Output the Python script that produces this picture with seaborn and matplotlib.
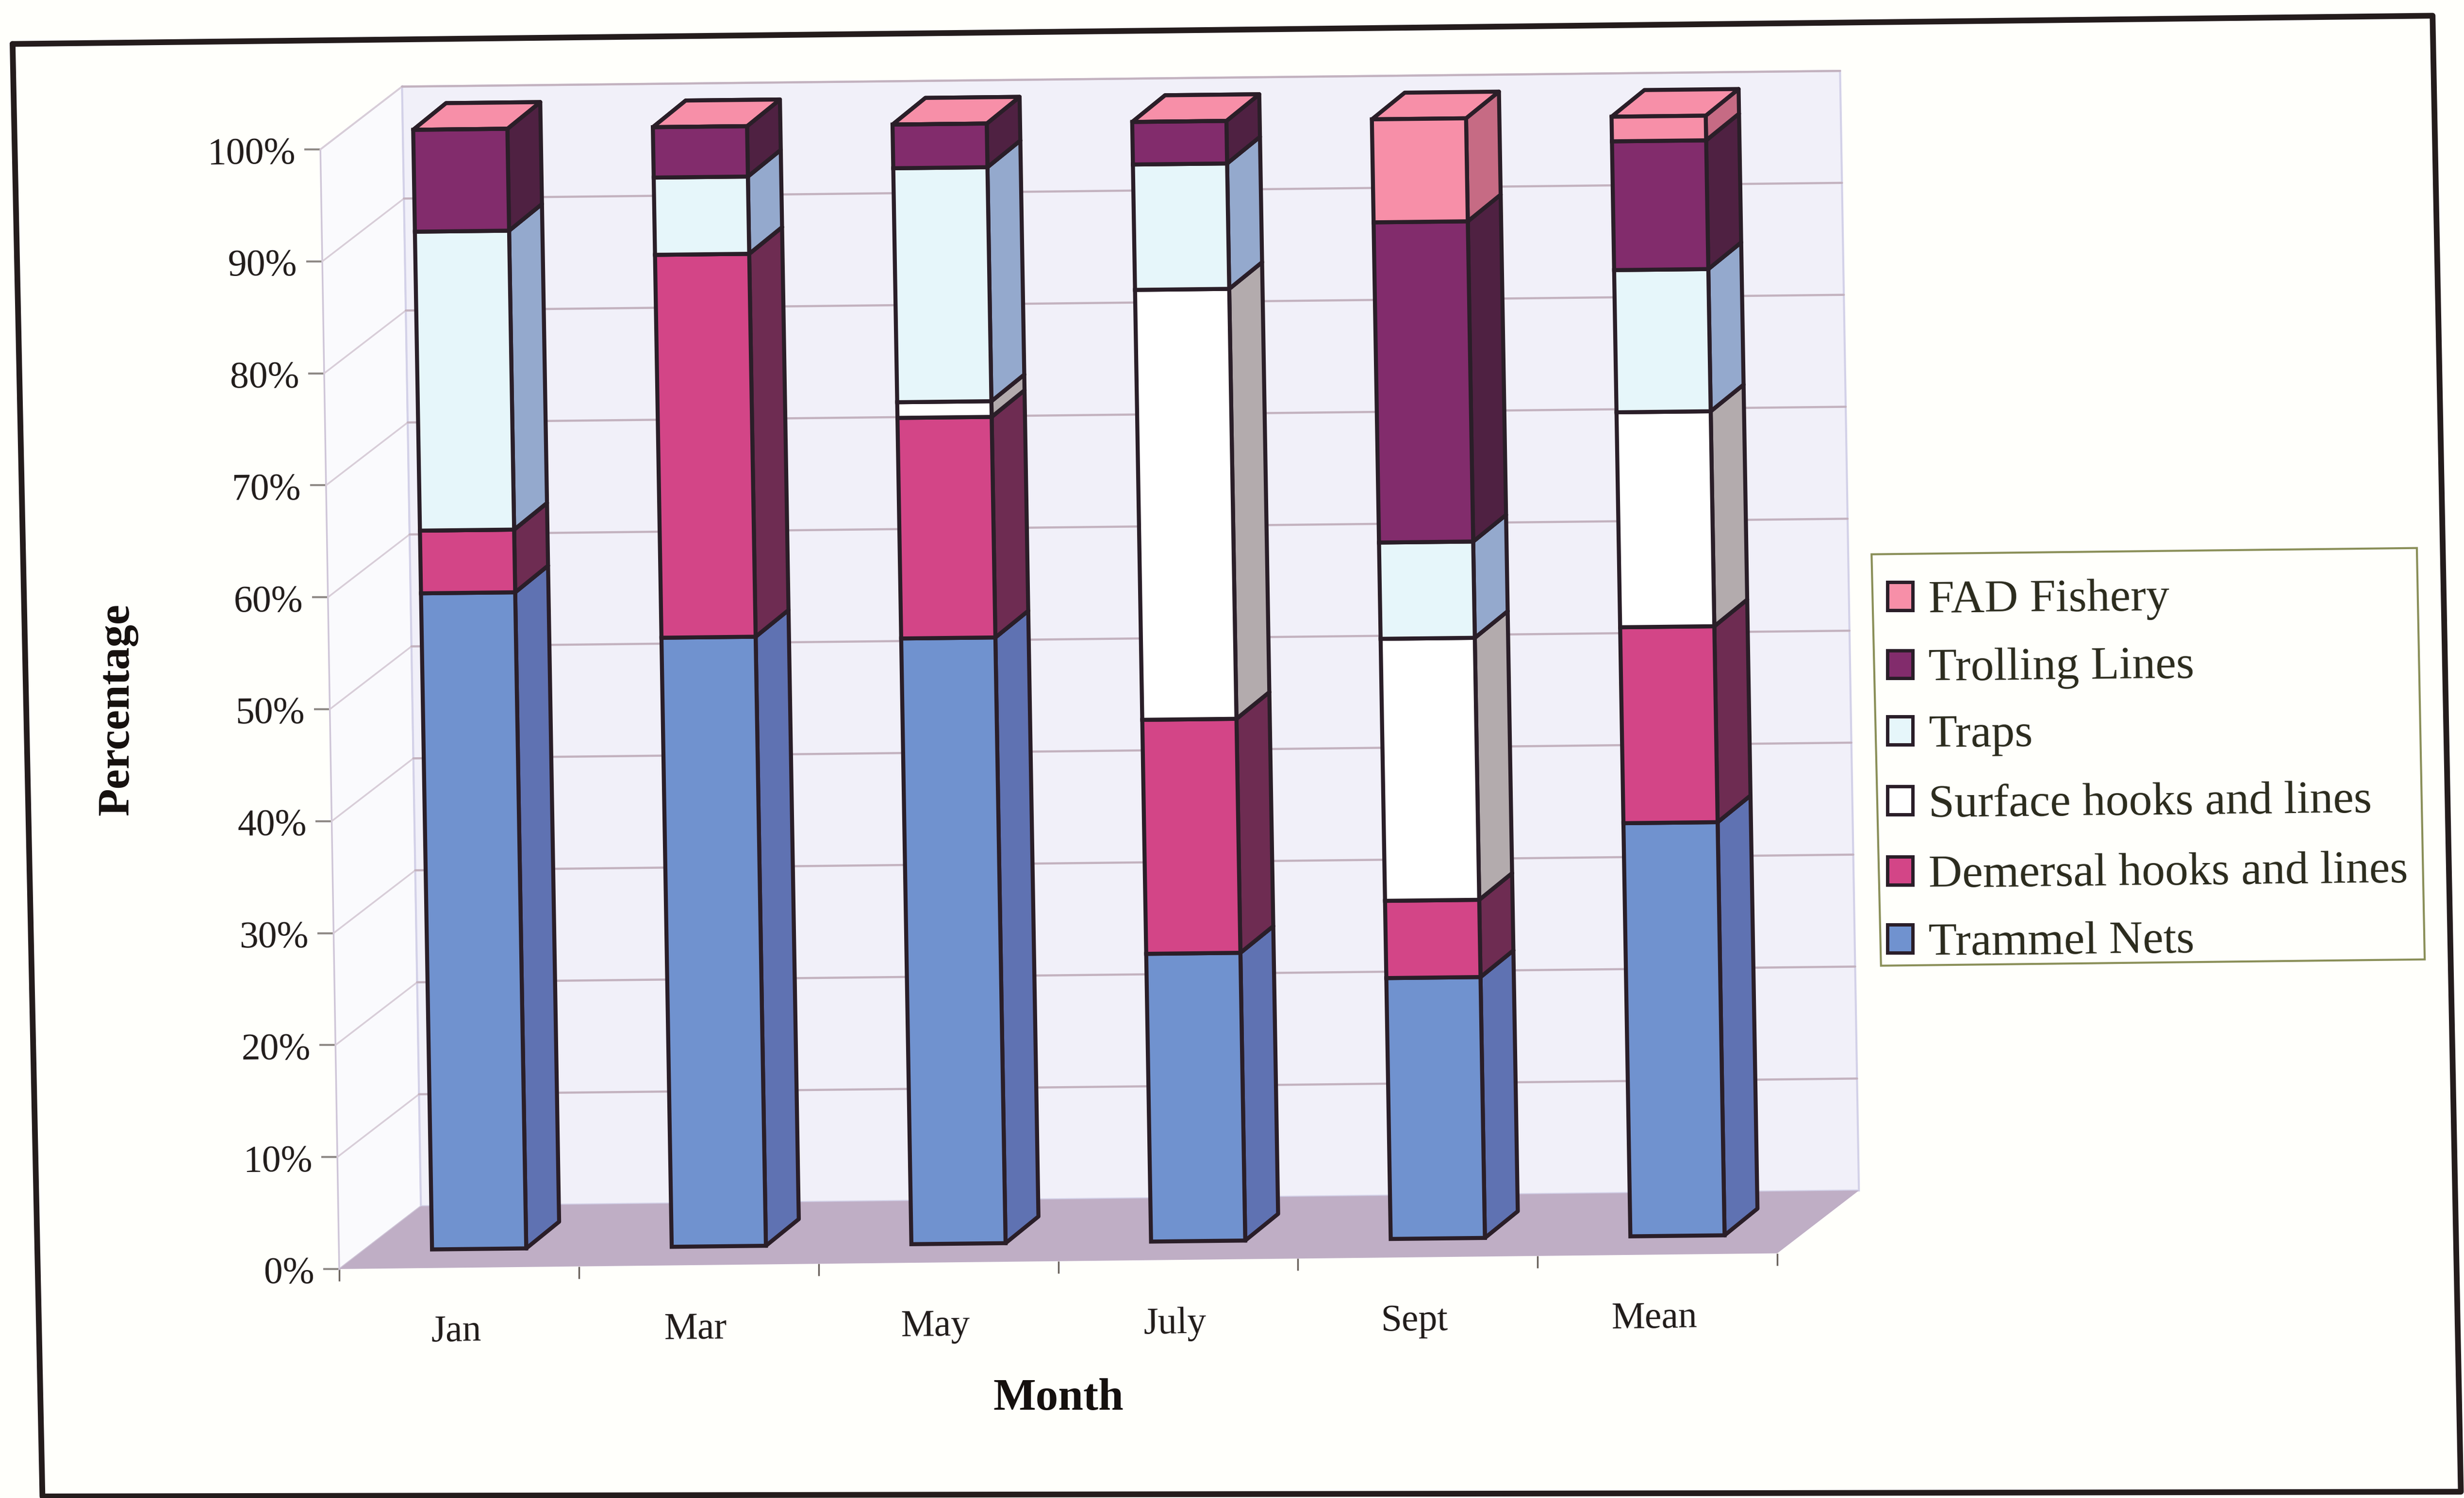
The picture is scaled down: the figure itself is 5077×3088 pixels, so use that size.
import matplotlib
matplotlib.use('Agg')
import numpy as np
import matplotlib.pyplot as plt
import seaborn as sns
from matplotlib.lines import Line2D
from matplotlib.patches import Patch, Polygon
from matplotlib.transforms import Affine2D

sns.set_style("white")
plt.rcParams['font.family'] = ['Liberation Serif', 'DejaVu Serif']

months = ['Jan', 'Mar', 'May', 'July', 'Sept', 'Mean']
pct_ticks = [0, 10, 20, 30, 40, 50, 60, 70, 80, 90, 100]

# bottom of the stack first
trammel = [58.6, 54.4, 54.1, 25.7, 23.3, 36.9]
demersal = [5.6, 34.2, 19.7, 20.9, 6.9, 17.5]
surface = [0, 0, 1.4, 38.4, 23.4, 19.2]
traps = [26.7, 6.9, 20.9, 11.2, 8.6, 12.7]
trolling = [9.1, 4.5, 3.9, 3.8, 28.6, 11.5]
fad = [0, 0, 0, 0, 9.2, 2.2]

series = [trammel, demersal, surface, traps, trolling, fad]
names = ['Trammel Nets', 'Demersal hooks and lines', 'Surface hooks and lines',
         'Traps', 'Trolling Lines', 'FAD Fishery']
front_colors = ['#7092cf', '#d34587', '#ffffff', '#e6f6fa', '#822c6c', '#f78fa8']
side_colors = ['#5f72b2', '#6e2c52', '#b3abad', '#94a9cd', '#4f2142', '#c66b84']

edge = '#2a1e28'
grid_col = '#c3b2bf'

W, H = 5077, 3088
fig = plt.figure(figsize=(W / 100, H / 100), dpi=100, facecolor='#fffffb')

# front plane of the chart box, in full size pixels
x0, x1 = 699.0, 3662.0
y0, y1 = H - 2616.0, H - 308.0
ax = fig.add_axes([x0 / W, y0 / H, (x1 - x0) / W, (y1 - y0) / H])
ax.patch.set_visible(False)
for s in ax.spines.values():
    s.set_visible(False)

# the scan is slightly skewed, so shear everything drawn in data coords
k1, k2 = 12 / 713, 10 / 915
shear = Affine2D(np.array([[1, -k1, k1 * y0], [k2, 1, -k2 * x0], [0, 0, 1]]))
ax.transData = ax.transData + shear

# fake 3d depths, in data units
floor_dx, floor_dy = 0.345, 5.53
bar_fx, bar_fy = 0.085, 1.66
bar_dx, bar_dy = 0.139, 2.35

left, right = -0.5, 5.5

# walls and floor
ax.fill([left, left + floor_dx, left + floor_dx, left], [0, floor_dy, 100 + floor_dy, 100],
        fc='#fafafd', ec='#cfc6d8', lw=2.5, zorder=1)
ax.fill([left + floor_dx, right + floor_dx, right + floor_dx, left + floor_dx],
        [floor_dy, floor_dy, 100 + floor_dy, 100 + floor_dy],
        fc='#f1f0f9', ec='#d3d1e8', lw=3, zorder=1)
ax.fill([left, right, right + floor_dx, left + floor_dx], [0, 0, floor_dy, floor_dy],
        fc='#bfaec5', ec='none', zorder=2)
for p in pct_ticks[1:]:
    ax.plot([left, left + floor_dx], [p, p + floor_dy], color='#d8cdd8', lw=2.5, zorder=2)
    ax.plot([left + floor_dx, right + floor_dx], [p + floor_dy, p + floor_dy],
            color=grid_col, lw=3.2, zorder=2)

# front faces
bottom = np.zeros(len(months))
for vals, name, col in zip(series, names, front_colors):
    sns.barplot(x=months, y=vals, bottom=bottom, color=col, saturation=1, width=0.393,
                edgecolor=edge, linewidth=6, errorbar=None, ax=ax)
    bottom = bottom + np.array(vals)

ax.set_xlim(left, right)
ax.set_ylim(0, 100)

shift = Affine2D().translate(bar_fx, bar_fy) + ax.transData
bars = [p for p in ax.patches if hasattr(p, 'get_width')]
n = len(months)
for k, b in enumerate(bars):
    b.set_transform(shift)
    b.set_zorder(6)
    i = k // n
    x_l, x_r = b.get_x(), b.get_x() + b.get_width()
    yb, yt = b.get_y(), b.get_y() + b.get_height()
    ax.fill([x_r, x_r + bar_dx, x_r + bar_dx, x_r], [yb, yb + bar_dy, yt + bar_dy, yt],
            fc=side_colors[i], ec=edge, lw=6, joinstyle='round', transform=shift, zorder=5)
    ax.fill([x_l, x_r, x_r + bar_dx, x_l + bar_dx], [yt, yt, yt + bar_dy, yt + bar_dy],
            fc=front_colors[i], ec=edge, lw=6, joinstyle='round', transform=shift, zorder=5)

for a in list(ax.patches) + list(ax.lines):
    a.set_clip_on(False)

# axes
ax.set_yticks(pct_ticks)
ax.set_yticklabels([f'{p}%' for p in pct_ticks])
ax.set_xticks(np.arange(left, right + 1))
ax.set_xticklabels([])
ax.set_xticks(range(len(months)), labels=months, minor=True)
ax.tick_params(axis='y', which='major', left=True, length=24, width=3, color='#8f8a86',
               labelsize=56, pad=13, labelcolor='#1f1a18')
ax.tick_params(axis='x', which='major', bottom=True, length=18, width=2.5, color='#6a625c')
ax.tick_params(axis='x', which='minor', bottom=False, length=0, labelsize=56, pad=69,
               labelcolor='#1f1a18')
for tick in ax.yaxis.get_major_ticks():
    tick.label1.set_transform(tick.label1.get_transform() + shear)
    tick.tick1line.set_transform(tick.tick1line.get_transform() + shear)
    tick.label1.set_rotation(0.6)
for tick in ax.xaxis.get_major_ticks():
    tick.tick1line.set_transform(tick.tick1line.get_transform() + shear)
for tick in ax.xaxis.get_minor_ticks():
    tick.label1.set_transform(tick.label1.get_transform() + shear + Affine2D().translate(-8, 0))
    tick.label1.set_rotation(0.6)

ax.set_xlabel('Month', fontsize=67, fontweight='bold', color='#15100e', labelpad=43)
ax.set_ylabel('Percentage', fontsize=67, fontweight='bold', color='#15100e', labelpad=102)

sx, sy = 1 / 1568, 1 / 954

# legend, top entry is the top of the stack
box_x = [1191, 1538, 1543, 1197]
box_y = [353, 349, 611, 615]
fig.add_artist(Polygon(np.column_stack([[v * sx for v in box_x], [1 - v * sy for v in box_y]]),
                       closed=True, fc='#fffffb', ec='#8a8f58', lw=3, transform=fig.transFigure))
handles = [Patch(fc=c, ec=edge, lw=5, label=t) for c, t in zip(front_colors, names)][::-1]
leg = fig.legend(handles=handles, loc='upper left', bbox_to_anchor=(3855 / W, 1 - 1158 / H),
                 fontsize=69, frameon=False, handlelength=0.55, handleheight=0.55,
                 handletextpad=0.33, labelspacing=0.5, borderpad=0.35, borderaxespad=0)
for t in leg.get_texts():
    t.set_color('#2a2a1c')
    t.set_rotation(0.6)

# hand ruled border of the page
frame_x = [8, 1548, 1566, 27, 8]
frame_y = [28, 10, 950, 953, 28]
fig.add_artist(Line2D([v * sx for v in frame_x], [1 - v * sy for v in frame_y],
                      color='#241c1c', lw=8.5, transform=fig.transFigure))

fig.savefig('out.png', dpi=100, facecolor=fig.get_facecolor())
